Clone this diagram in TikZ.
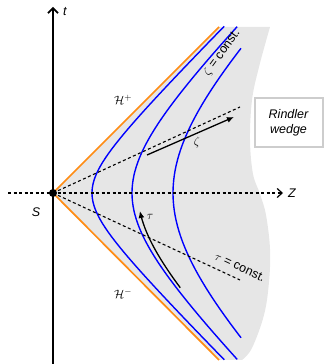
\documentclass[tikz,border=0pt]{standalone}
\usepackage{fontspec}
\setmainfont{Liberation Sans}
\usetikzlibrary{arrows.meta}
\definecolor{horange}{RGB}{255,140,20}
\definecolor{wedgegray}{RGB}{230,230,230}
\definecolor{boxgray}{RGB}{205,205,205}
\begin{document}
\begin{tikzpicture}[x=1pt,y=1pt,
  font=\fontsize{12.5}{15}\selectfont,
  hyp/.style={blue, line width=1.4pt},
  horizon/.style={horange, line width=1.7pt},
  ray/.style={black, line width=1.1pt, dash pattern=on 3pt off 2.5pt},
  axisline/.style={black, line width=1.7pt},
  motion/.style={black, line width=1.3pt, -{Latex[length=7pt,width=6pt]}},
  lbl/.style={inner sep=1pt}]
\useasboundingbox (0,0) rectangle (324,364);
\coordinate (S) at (53,171);
\coordinate (Htop) at (219,337);
\coordinate (Hbot) at (219,4);
% wedge
\fill[wedgegray] (S) -- (Htop) --
  plot[smooth, tension=0.6] coordinates {(270,337) (259,297) (252,264) (250,224) (253,190) (260,170) (266,149) (270,115) (269,82) (264,49) (252,16) (242,4)}
  -- (Hbot) -- cycle;
% horizons
\draw[horizon] (S) -- (Htop);
\draw[horizon] (S) -- (Hbot);
% hyperbolas
\draw[hyp] plot[domain=-2.16:2.16, samples=80, variable=\u] ({53+39*cosh(\u)}, {171+39*sinh(\u)});
\draw[hyp] plot[domain=-1.49:1.49, samples=60, variable=\u] ({53+79*cosh(\u)}, {171+79*sinh(\u)});
\draw[hyp] plot[domain=-1.02:1.02, samples=50, variable=\u] ({53+120*cosh(\u)}, {171+120*sinh(\u)});
% rays
\coordinate (Rup) at (240,257);
\coordinate (Rdn) at (240,84);
\draw[ray] (S) -- (Rup);
\draw[ray] (S) -- (Rdn);
% axes
\coordinate (Zs) at (8,171);
\coordinate (Ze) at (283,171);
\draw[ray, -{Straight Barb[length=5pt,width=9pt,line width=1.2pt]}] (Zs) -- (Ze);
\coordinate (Tb) at (53,0);
\coordinate (Tt) at (53,357);
\draw[axisline, -{Straight Barb[length=5pt,width=10pt]}] (Tb) -- (Tt);
% motion arrows
\coordinate (Za) at (147,209);
\coordinate (Zb) at (234,247);
\draw[motion] (Za) -- (Zb);
\draw[motion] plot[domain=-0.96:-0.21, samples=30, variable=\u] ({53+85*cosh(\u)}, {171+85*sinh(\u)});
% event S
\fill (S) circle (4pt);
% labels
\node[lbl] (tl) at (65,352) {\textit{t}};
\node[lbl] (zl) at (292,171) {\textit{Z}};
\node[lbl] (sl) at (36,152) {\textit{S}};
\node[lbl] (hp) at (123,264) {$\mathcal{H}^{+}$};
\node[lbl] (hm) at (123,70) {$\mathcal{H}^{-}$};
\node[lbl] (zeta) at (197,221) {$\zeta$};
\node[lbl] (tau) at (150,147) {$\tau$};
\node[lbl, rotate=54, font=\fontsize{12.5}{14}\selectfont] (zc) at (222,311) {$\zeta$ = const.};
\node[lbl, rotate=-25, font=\fontsize{12.5}{14}\selectfont] (tc) at (240,97) {$\tau$ = const.};
\node[draw=boxgray, line width=2pt, minimum width=68pt, minimum height=49pt, align=center, font=\fontsize{12.5}{15}\selectfont\itshape] (rw) at (288.5,241) {Rindler\\wedge};
\end{tikzpicture}
\end{document}
